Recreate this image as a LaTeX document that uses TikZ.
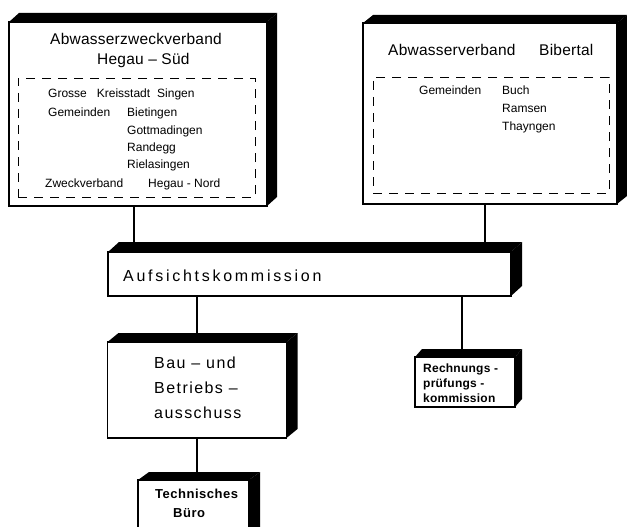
\documentclass[tikz,border=0pt]{standalone}
\usepackage{fontspec}
\setmainfont{Liberation Sans}
\newcommand\blockdepth[3]{%
  \fill[black] (#1.north west) -- ++(#2,-#3) -- ([shift={(#2,-#3)}]#1.north east) -- (#1.north east) -- cycle;
  \fill[black] (#1.north east) -- ++(#2,-#3) -- ([shift={(#2,-#3)}]#1.south east) -- (#1.south east) -- cycle;}
\begin{document}
\begin{tikzpicture}[x=1pt,y=-1pt,
  frontbox/.style={draw, fill=white, line width=1.4pt, inner sep=0pt, outer sep=0pt},
  dashbox/.style={draw, line width=0.8pt, dash pattern=on 9pt off 7pt, inner sep=0pt},
  conn/.style={line width=1.5pt},
  lbl/.style={inner sep=0pt, anchor=base west, font=\fontsize{12}{14}\selectfont},
  ttl/.style={inner sep=0pt, anchor=base west, font=\fontsize{15.5}{18}\selectfont\addfontfeature{LetterSpace=1.5}},
  bau/.style={inner sep=0pt, anchor=base west, font=\fontsize{16}{18}\selectfont\addfontfeature{LetterSpace=9}},
  small/.style={inner sep=0pt, anchor=base west, font=\fontsize{12}{14}\selectfont\bfseries\addfontfeature{LetterSpace=2}}]
\useasboundingbox (0,0) rectangle (627,527);
\clip (0,0) rectangle (627,527);

% boxes
\node[frontbox, minimum width=258pt, minimum height=184pt] (b1) at (138,114) {};
\node[frontbox, minimum width=254pt, minimum height=181pt] (b2) at (490,113.5) {};
\node[frontbox, minimum width=403pt, minimum height=44pt] (auf) at (309.5,274) {};
\node[frontbox, minimum width=179pt, minimum height=96pt] (bau) at (197,390) {};
\node[frontbox, minimum width=111pt, minimum height=70pt] (tb) at (193.5,515) {};
\node[frontbox, minimum width=100pt, minimum height=50pt] (rp) at (465,382) {};

% connectors
\draw[conn] ([xshift=-4pt]b1.south) -- ([xshift=-4pt]b1.south |- auf.north);
\draw[conn] ([xshift=-5pt]b2.south) -- ([xshift=-5pt]b2.south |- auf.north);
\draw[conn] (bau.north |- auf.south) -- (bau.north);
\draw[conn] ([xshift=-3pt]rp.north |- auf.south) -- ([xshift=-3pt]rp.north);
\draw[conn] (bau.south) -- (bau.south |- tb.north);

% 3D depth
\blockdepth{b1}{10}{9}
\blockdepth{b2}{10}{8}
\blockdepth{auf}{11}{10}
\blockdepth{bau}{11}{9}
\blockdepth{tb}{11}{8}
\blockdepth{rp}{7}{8}

% dashed inner frames
\node[dashbox, minimum width=237pt, minimum height=119pt] (d1) at (136.5,137.5) {};
\node[dashbox, minimum width=236pt, minimum height=116pt] (d2) at (491,135) {};

% box 1 texts
\node[ttl] (t1a) at (50,45) {Abwasserzweckverband};
\node[ttl] (t1b) at (97,65) {Hegau -- Süd};
\node[lbl] (g1) at (48,97) {Grosse\hspace{10pt}Kreisstadt\hspace{7pt}Singen};
\node[lbl] (gem1) at (48,117) {Gemeinden};
\node[lbl] (o1) at (127,117) {Bietingen};
\node[lbl] (o2) at (127,134) {Gottmadingen};
\node[lbl] (o3) at (127,151) {Randegg};
\node[lbl] (o4) at (127,168) {Rielasingen};
\node[lbl] (z1) at (45,187) {Zweckverband};
\node[lbl] (z2) at (148,187) {Hegau - Nord};

% box 2 texts
\node[ttl] (t2a) at (388,56) {Abwasserverband};
\node[ttl] (t2b) at (539,56) {Bibertal};
\node[lbl] (gem2) at (419,95) {Gemeinden};
\node[lbl] (p1) at (502,95) {Buch};
\node[lbl] (p2) at (502,113) {Ramsen};
\node[lbl] (p3) at (502,130) {Thayngen};

% Aufsichtskommission
\node[inner sep=0pt, anchor=base west, font=\fontsize{16}{18}\selectfont\addfontfeature{LetterSpace=17}] (auft) at (123,281) {Aufsichtskommission};

% Bau- und Betriebsausschuss
\node[bau] (bau1) at (154,368) {Bau -- und};
\node[bau] (bau2) at (154,393) {Betriebs --};
\node[bau] (bau3) at (154,418) {ausschuss};

% Technisches Buero
\node[small, font=\fontsize{13}{15}\selectfont\bfseries\addfontfeature{LetterSpace=4}] (tb1) at (155,498) {Technisches};
\node[small, font=\fontsize{13}{15}\selectfont\bfseries\addfontfeature{LetterSpace=4}] (tb2) at (173,517) {Büro};

% Rechnungspruefungskommission
\node[small] (rp1) at (423,372) {Rechnungs -};
\node[small] (rp2) at (423,387) {prüfungs -};
\node[small] (rp3) at (423,402) {kommission};
\end{tikzpicture}
\end{document}
